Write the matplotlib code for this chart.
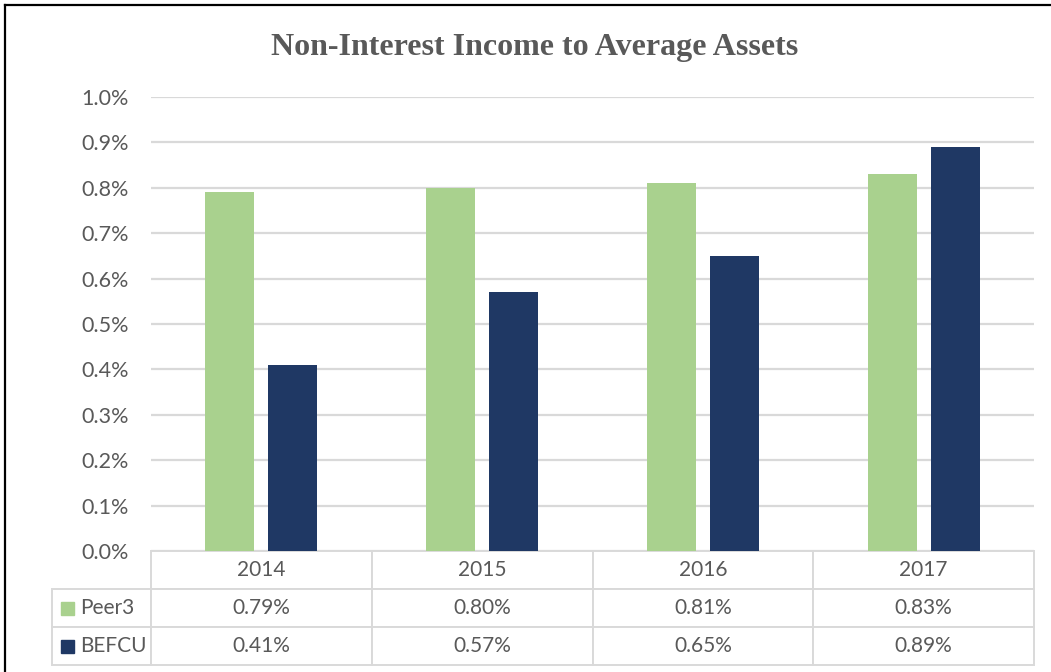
import numpy as np
import matplotlib
matplotlib.use("Agg")
import matplotlib.pyplot as plt
from matplotlib.lines import Line2D
from matplotlib.patches import Rectangle

years = ["2014", "2015", "2016", "2017"]
peer3 = [0.79, 0.80, 0.81, 0.83]
befcu = [0.41, 0.57, 0.65, 0.89]
series_names = ["Peer3", "BEFCU"]
series_colors = ["#a9d18e", "#1f3864"]
yticks = [0.0, 0.1, 0.2, 0.3, 0.4, 0.5, 0.6, 0.7, 0.8, 0.9, 1.0]

txt = "#595959"
grid = "#d9d9d9"
plt.rcParams['font.family'] = ['Lato', 'DejaVu Sans']

W, H = 1051, 672
fig = plt.figure(figsize=(W / 100, H / 100), dpi=100)
L, R, B, T = 151, 1034, 551, 97
ax = fig.add_axes([L / W, 1 - B / H, (R - L) / W, (B - T) / H])

x = np.arange(len(years))
bw = 0.222
off = 0.143
ax.bar(x - off, peer3, bw, color=series_colors[0], zorder=3)
ax.bar(x + off, befcu, bw, color=series_colors[1], zorder=3)

ax.set_xlim(-0.5, len(years) - 0.5)
ax.set_ylim(0, 1.0)
ax.set_yticks(yticks)
ax.set_yticklabels(["%.1f%%" % v for v in yticks], color=txt, fontsize=15.5)
ax.tick_params(axis="y", length=0, pad=16)
ax.set_xticks([])
ax.yaxis.grid(True, color=grid, linewidth=1.6, zorder=0)
for s in ax.spines.values():
    s.set_visible(False)

# data table under the chart
cell_text = [[""] + years,
             [""] + ["%.2f%%" % v for v in peer3],
             [""] + ["%.2f%%" % v for v in befcu]]
lab_w = (L - 52) / (R - L)
tab_h = (665 - B) / (B - T)
tbl = ax.table(cellText=cell_text, cellLoc="center",
               colWidths=[lab_w] + [1 / len(years)] * len(years),
               bbox=[-lab_w, -tab_h, 1 + lab_w, tab_h])
tbl.auto_set_font_size(False)
tbl.set_fontsize(15)
for (r, c), cell in tbl.get_celld().items():
    cell.set_edgecolor(grid)
    cell.set_linewidth(1.4)
    cell.get_text().set_color(txt)
    if r == 0 and c == 0:
        cell.visible_edges = ""

row_h = tab_h / 3
sq_w = 13 / (R - L)
sq_h = 13 / (B - T)
for i, (name, col) in enumerate(zip(series_names, series_colors)):
    yc = -row_h * (i + 1.5)
    ax.add_patch(Rectangle((-(L - 61) / (R - L), yc - sq_h / 2), sq_w, sq_h,
                           transform=ax.transAxes, color=col, clip_on=False))
    ax.text(-(L - 80) / (R - L), yc, name, transform=ax.transAxes,
            ha="left", va="center", fontsize=15, color=txt)

fig.text(535 / W, 1 - 48 / H, "Non-Interest Income to Average Assets",
         family="Liberation Serif", fontweight="bold", fontsize=23,
         color=txt, ha="center", va="center")

# outer frame (left and top edges visible)
fig.add_artist(Line2D([5 / W, 5 / W], [0, 1 - 5 / H], color="black", linewidth=1.6))
fig.add_artist(Line2D([5 / W, 1], [1 - 5 / H, 1 - 5 / H], color="black", linewidth=1.6))

fig.savefig("out.png", dpi=100)
